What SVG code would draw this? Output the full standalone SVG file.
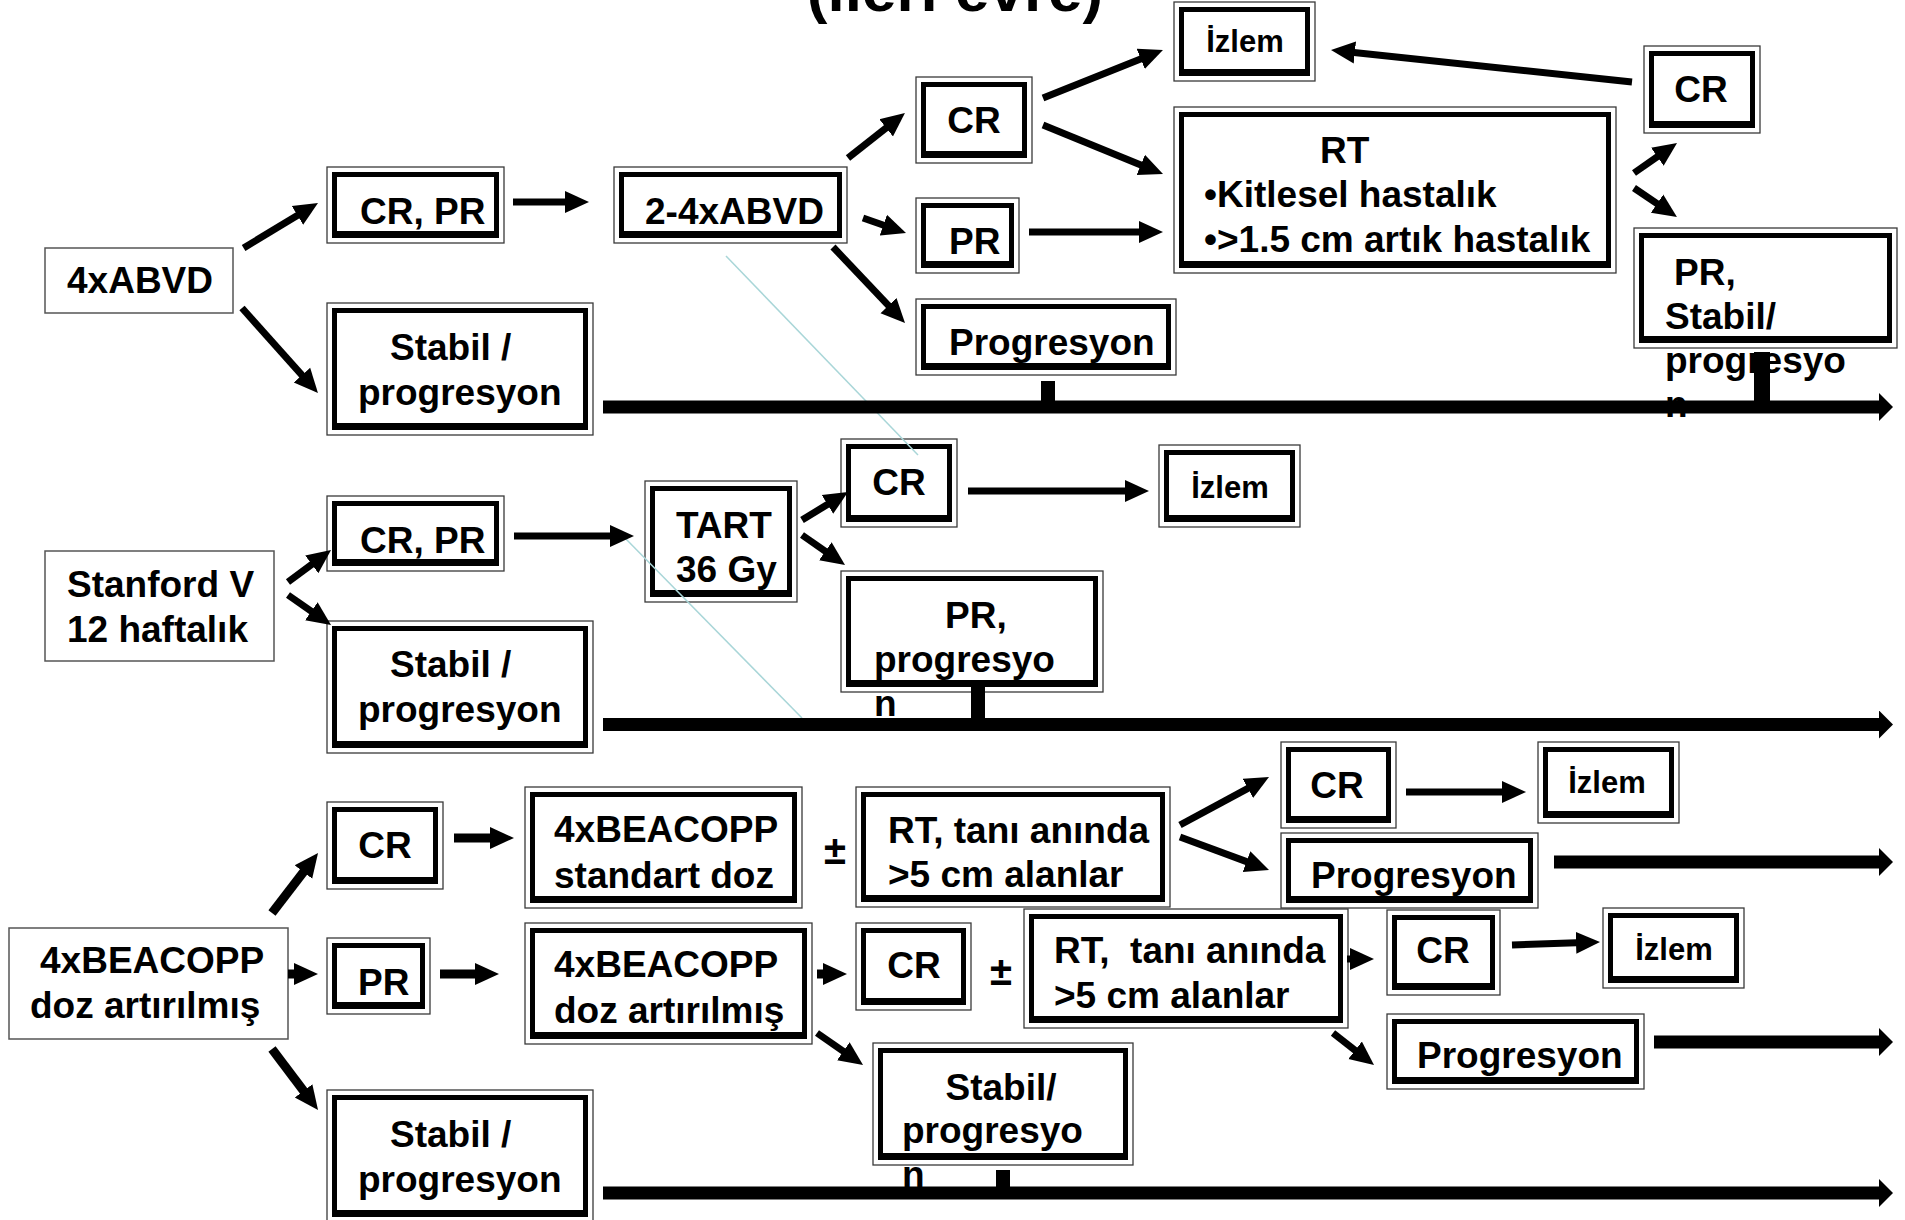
<svg xmlns="http://www.w3.org/2000/svg" width="1905" height="1220" viewBox="0 0 1905 1220">
<style>
text{font-family:"Liberation Sans",Arial,sans-serif;font-weight:bold;font-size:37px;fill:#000}
.s31{font-size:31px}
.m{text-anchor:middle}
.o{fill:#fff;stroke:#3a3a3a;stroke-width:1.3}
.i{fill:none;stroke:#000;stroke-width:5}
.b{fill:#000}
.p{fill:#fff;stroke:#555;stroke-width:1.5}
.c{stroke:#000;stroke-width:7;fill:none;marker-end:url(#ah)}
.c9{stroke-width:9}
.t{stroke:#000;stroke-width:13;fill:none;marker-end:url(#aht)}
.tk{fill:#000}
.stray{stroke:#a9d6d8;stroke-width:1.5;fill:none}
</style>
<defs>
<marker id="ah" markerUnits="userSpaceOnUse" markerWidth="24" markerHeight="24" viewBox="0 0 24 24" refX="8" refY="12" orient="auto"><path d="M0,1 L24,12 L0,23 z" fill="#000"/></marker>
<marker id="aht" markerUnits="userSpaceOnUse" markerWidth="14" markerHeight="28" viewBox="0 0 14 28" refX="4" refY="14" orient="auto"><path d="M0,0 L14,14 L0,28 z" fill="#000"/></marker>
</defs>
<rect width="1905" height="1220" fill="#fff"/>
<text class="m" x="955" y="11" style="font-size:62px">(ileri evre)</text>

<g id="nodes">
<g id="n_abvd4"><rect class="p" x="45" y="248" width="188" height="65"/><text x="67" y="293">4xABVD</text></g>
<g id="n_crpr1"><rect class="o" x="327" y="167" width="177" height="76"/><rect class="i" x="334.5" y="174.5" width="162" height="61"/><rect class="b" x="332" y="231" width="167" height="4"/><text x="360" y="224">CR, PR</text></g>
<g id="n_abvd24"><rect class="o" x="614" y="167" width="233" height="76"/><rect class="i" x="621.5" y="174.5" width="218" height="61"/><rect class="b" x="619" y="231" width="223" height="4"/><text x="645" y="224">2-4xABVD</text></g>
<g id="n_stab1"><rect class="o" x="327" y="303" width="266" height="132"/><rect class="i" x="334.5" y="310.5" width="251" height="117"/><rect class="b" x="332" y="423" width="256" height="4"/><text x="390" y="360">Stabil /</text><text x="358" y="405">progresyon</text></g>
<g id="n_cr1"><rect class="o" x="916" y="77" width="116" height="86"/><rect class="i" x="923.5" y="84.5" width="101" height="71"/><rect class="b" x="921" y="151" width="106" height="4"/><text class="m" x="974" y="133">CR</text></g>
<g id="n_pr1"><rect class="o" x="916" y="198" width="103" height="75"/><rect class="i" x="923.5" y="205.5" width="88" height="60"/><rect class="b" x="921" y="261" width="93" height="4"/><text x="949" y="254">PR</text></g>
<g id="n_prog1"><rect class="o" x="916" y="299" width="260" height="76"/><rect class="i" x="923.5" y="306.5" width="245" height="61"/><rect class="b" x="921" y="363" width="250" height="4"/><text x="949" y="355">Progresyon</text></g>
<g id="n_izlem1"><rect class="o" x="1174" y="2" width="141" height="79"/><rect class="i" x="1181.5" y="9.5" width="126" height="64"/><rect class="b" x="1179" y="69" width="131" height="4"/><text class="m s31" x="1245" y="52">İzlem</text></g>
<g id="n_rt1"><rect class="o" x="1174" y="107" width="442" height="166"/><rect class="i" x="1181.5" y="114.5" width="427" height="151"/><rect class="b" x="1179" y="261" width="432" height="4"/><text x="1320" y="163">RT</text><text x="1204" y="207">•Kitlesel hastalık</text><text x="1204" y="252">•&gt;1.5 cm artık hastalık</text></g>
<g id="n_cr1r"><rect class="o" x="1644" y="46" width="116" height="87"/><rect class="i" x="1651.5" y="53.5" width="101" height="72"/><rect class="b" x="1649" y="121" width="106" height="4"/><text class="m" x="1701" y="102">CR</text></g>
<g id="n_prstab1"><rect class="o" x="1634" y="228" width="263" height="120"/><rect class="i" x="1641.5" y="235.5" width="248" height="105"/><rect class="b" x="1639" y="336" width="253" height="4"/><text x="1674" y="285">PR,</text><text x="1665" y="329">Stabil/</text><text x="1665" y="373">progresyo</text><text x="1665" y="417">n</text></g>

<g id="n_stanford"><rect class="p" x="45" y="551" width="229" height="110"/><text x="67" y="597">Stanford V</text><text x="67" y="642">12 haftalık</text></g>
<g id="n_crpr2"><rect class="o" x="327" y="496" width="177" height="75"/><rect class="i" x="334.5" y="503.5" width="162" height="60"/><rect class="b" x="332" y="559" width="167" height="4"/><text x="360" y="553">CR, PR</text></g>
<g id="n_tart"><rect class="o" x="645" y="481" width="152" height="121"/><rect class="i" x="652.5" y="488.5" width="137" height="106"/><rect class="b" x="650" y="590" width="142" height="4"/><text x="676" y="538">TART</text><text x="676" y="582">36 Gy</text></g>
<g id="n_stab2"><rect class="o" x="327" y="621" width="266" height="132"/><rect class="i" x="334.5" y="628.5" width="251" height="117"/><rect class="b" x="332" y="741" width="256" height="4"/><text x="390" y="677">Stabil /</text><text x="358" y="722">progresyon</text></g>
<g id="n_cr2"><rect class="o" x="841" y="439" width="116" height="88"/><rect class="i" x="848.5" y="446.5" width="101" height="73"/><rect class="b" x="846" y="515" width="106" height="4"/><text class="m" x="899" y="495">CR</text></g>
<g id="n_izlem2"><rect class="o" x="1159" y="445" width="141" height="82"/><rect class="i" x="1166.5" y="452.5" width="126" height="67"/><rect class="b" x="1164" y="515" width="131" height="4"/><text class="m s31" x="1230" y="498">İzlem</text></g>
<g id="n_prprog2"><rect class="o" x="841" y="571" width="262" height="121"/><rect class="i" x="848.5" y="578.5" width="247" height="106"/><rect class="b" x="846" y="680" width="252" height="4"/><text x="945" y="628">PR,</text><text x="874" y="672">progresyo</text><text x="874" y="716">n</text></g>

<g id="n_beac"><rect class="p" x="9" y="928" width="279" height="111"/><text x="40" y="973">4xBEACOPP</text><text x="30" y="1018">doz artırılmış</text></g>
<g id="n_cr3"><rect class="o" x="327" y="802" width="116" height="87"/><rect class="i" x="334.5" y="809.5" width="101" height="72"/><rect class="b" x="332" y="877" width="106" height="4"/><text class="m" x="385" y="858">CR</text></g>
<g id="n_pr3"><rect class="o" x="327" y="938" width="103" height="76"/><rect class="i" x="334.5" y="945.5" width="88" height="61"/><rect class="b" x="332" y="1002" width="93" height="4"/><text x="358" y="995">PR</text></g>
<g id="n_beacstd"><rect class="o" x="525" y="787" width="277" height="121"/><rect class="i" x="532.5" y="794.5" width="262" height="106"/><rect class="b" x="530" y="896" width="267" height="4"/><text x="554" y="842">4xBEACOPP</text><text x="554" y="888">standart doz</text></g>
<g id="n_beacdoz"><rect class="o" x="525" y="923" width="287" height="121"/><rect class="i" x="532.5" y="930.5" width="272" height="106"/><rect class="b" x="530" y="1032" width="277" height="4"/><text x="554" y="977">4xBEACOPP</text><text x="554" y="1023">doz artırılmış</text></g>
<g id="n_stab3"><rect class="o" x="327" y="1090" width="266" height="132"/><rect class="i" x="334.5" y="1097.5" width="251" height="117"/><rect class="b" x="332" y="1210" width="256" height="4"/><text x="390" y="1147">Stabil /</text><text x="358" y="1192">progresyon</text></g>
<g id="n_rt3a"><rect class="o" x="856" y="787" width="314" height="120"/><rect class="i" x="863.5" y="794.5" width="299" height="105"/><rect class="b" x="861" y="895" width="304" height="4"/><text x="888" y="843">RT, tanı anında</text><text x="888" y="887">&gt;5 cm alanlar</text></g>
<g id="n_cr3a"><rect class="o" x="1281" y="742" width="115" height="86"/><rect class="i" x="1288.5" y="749.5" width="100" height="71"/><rect class="b" x="1286" y="816" width="105" height="4"/><text class="m" x="1337" y="798">CR</text></g>
<g id="n_izlem3a"><rect class="o" x="1538" y="742" width="141" height="81"/><rect class="i" x="1545.5" y="749.5" width="126" height="66"/><rect class="b" x="1543" y="811" width="131" height="4"/><text class="m s31" x="1607" y="793">İzlem</text></g>
<g id="n_prog3a"><rect class="o" x="1281" y="833" width="257" height="75"/><rect class="i" x="1288.5" y="840.5" width="242" height="60"/><rect class="b" x="1286" y="896" width="247" height="4"/><text x="1311" y="888">Progresyon</text></g>
<g id="n_cr3b"><rect class="o" x="856" y="923" width="115" height="87"/><rect class="i" x="863.5" y="930.5" width="100" height="72"/><rect class="b" x="861" y="998" width="105" height="4"/><text class="m" x="914" y="978">CR</text></g>
<g id="n_rt3b"><rect class="o" x="1024" y="909" width="324" height="119"/><rect class="i" x="1031.5" y="916.5" width="309" height="104"/><rect class="b" x="1029" y="1016" width="314" height="4"/><text x="1054" y="963" xml:space="preserve">RT,  tanı anında</text><text x="1054" y="1008">&gt;5 cm alanlar</text></g>
<g id="n_cr3c"><rect class="o" x="1387" y="910" width="113" height="85"/><rect class="i" x="1394.5" y="917.5" width="98" height="70"/><rect class="b" x="1392" y="983" width="103" height="4"/><text class="m" x="1443" y="963">CR</text></g>
<g id="n_izlem3b"><rect class="o" x="1603" y="908" width="141" height="80"/><rect class="i" x="1610.5" y="915.5" width="126" height="65"/><rect class="b" x="1608" y="976" width="131" height="4"/><text class="m s31" x="1674" y="960">İzlem</text></g>
<g id="n_prog3b"><rect class="o" x="1387" y="1014" width="257" height="75"/><rect class="i" x="1394.5" y="1021.5" width="242" height="60"/><rect class="b" x="1392" y="1077" width="247" height="4"/><text x="1417" y="1068">Progresyon</text></g>
<g id="n_stabprog3"><rect class="o" x="873" y="1043" width="260" height="122"/><rect class="i" x="880.5" y="1050.5" width="245" height="107"/><rect class="b" x="878" y="1153" width="250" height="4"/><text class="m" x="1001" y="1100">Stabil/</text><text x="902" y="1143">progresyo</text><text x="902" y="1187">n</text></g>
</g>

<g id="labels">
<text class="m" x="835" y="864" style="font-size:40px">±</text>
<text class="m" x="1001" y="985" style="font-size:40px">±</text>
</g>

<g id="stray">
<line class="stray" x1="726" y1="256" x2="918" y2="455"/>
<line class="stray" x1="624" y1="537" x2="802" y2="718"/>
</g>

<g id="connectors">
<line class="c" x1="243.6" y1="248" x2="304.3" y2="211.3"/>
<line class="c" x1="242" y1="308" x2="307.3" y2="381.1"/>
<line class="c" x1="513" y1="202" x2="573" y2="202"/>
<line class="c" x1="848" y1="158" x2="892.4" y2="122.9"/>
<line class="c" x1="863" y1="218" x2="890.9" y2="227.7"/>
<line class="c" x1="833" y1="247" x2="894" y2="311.4"/>
<line class="c" x1="1043" y1="98" x2="1148.1" y2="55.9"/>
<line class="c" x1="1043" y1="125" x2="1148.2" y2="167.9"/>
<line class="c" x1="1029" y1="232" x2="1147" y2="232"/>
<line class="c" x1="1632" y1="82" x2="1346.9" y2="51.7"/>
<line class="c" x1="1634" y1="173" x2="1663.9" y2="152.2"/>
<line class="c" x1="1634" y1="188" x2="1663.7" y2="208.1"/>
<line class="t" x1="603" y1="407" x2="1883" y2="407"/>
<rect class="tk" x="1041" y="381" width="14" height="22"/>
<rect class="tk" x="1754" y="352" width="16" height="50"/>

<line class="c" x1="288" y1="582" x2="318.2" y2="559.6"/>
<line class="c" x1="288" y1="595" x2="317.9" y2="615.8"/>
<line class="c" x1="514" y1="536" x2="618" y2="536"/>
<line class="c" x1="802" y1="520" x2="834.3" y2="500.3"/>
<line class="c" x1="802" y1="535" x2="831.9" y2="555.8"/>
<line class="c" x1="968" y1="491" x2="1133" y2="491"/>
<line class="t" x1="603" y1="724.5" x2="1883" y2="724.5"/>
<rect class="tk" x="971" y="686" width="14" height="34"/>

<line class="c c9" x1="272" y1="913" x2="308.3" y2="865.7"/>
<line class="c c9" x1="288" y1="974" x2="302" y2="974"/>
<line class="c c9" x1="272" y1="1049" x2="308.4" y2="1097.2"/>
<line class="c c9" x1="454" y1="838" x2="498" y2="838"/>
<line class="c c9" x1="440" y1="974" x2="483" y2="974"/>
<line class="c c9" x1="817" y1="974" x2="831" y2="974"/>
<line class="c" x1="817" y1="1033" x2="849.9" y2="1055.9"/>
<line class="c" x1="1180" y1="825" x2="1254.9" y2="784.6"/>
<line class="c" x1="1180" y1="837" x2="1254" y2="864.4"/>
<line class="c" x1="1406" y1="792" x2="1510" y2="792"/>
<line class="t" x1="1554" y1="862" x2="1883" y2="862"/>
<line class="c" x1="1347" y1="959" x2="1358" y2="959"/>
<line class="c" x1="1512" y1="945" x2="1584" y2="942.5"/>
<line class="c" x1="1333" y1="1033" x2="1361.4" y2="1055.2"/>
<line class="t" x1="1654" y1="1042" x2="1883" y2="1042"/>
<line class="t" x1="603" y1="1193" x2="1883" y2="1193"/>
<rect class="tk" x="996" y="1170" width="14" height="18"/>
</g>
</svg>
